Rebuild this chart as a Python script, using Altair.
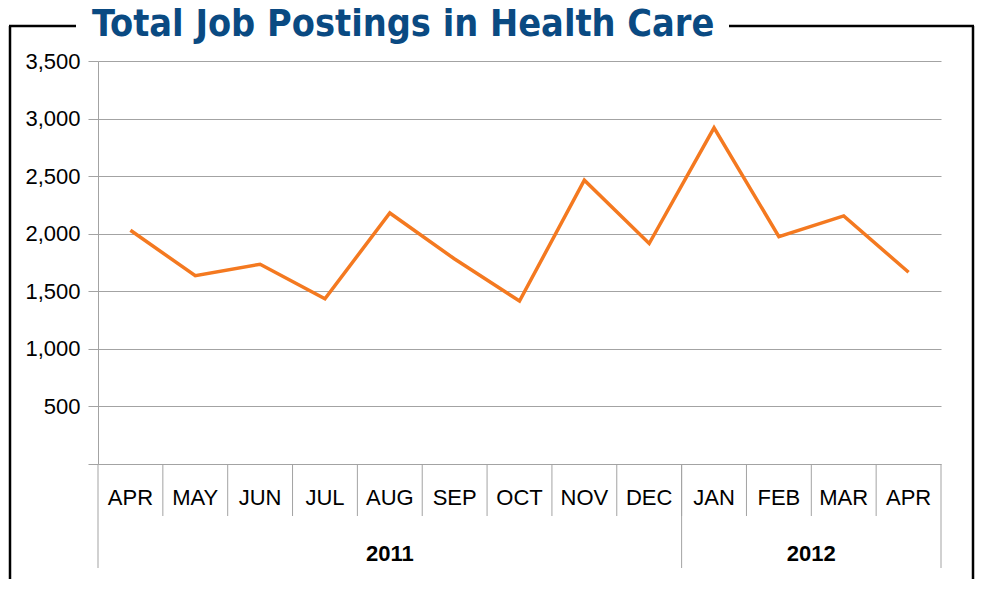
import altair as alt
import pandas as pd

# ---- data ----
months = ["APR", "MAY", "JUN", "JUL", "AUG", "SEP", "OCT", "NOV", "DEC", "JAN", "FEB", "MAR", "APR"]
postings = [2030, 1635, 1735, 1435, 2180, 1780, 1415, 2465, 1915, 2920, 1975, 2155, 1665]
years = ["2011", "2012"]
year_first = [0, 9]
year_last = [8, 12]
y_ticks = [0, 500, 1000, 1500, 2000, 2500, 3000, 3500]
title_text = "Total Job Postings in Health Care"

# ---- style ----
W, H = 843, 403
GRAY = "#a3a3a3"
ORANGE = "#f47920"
NAVY = "#0a4a82"
FONT = "Liberation Sans"

n = len(months)
df = pd.DataFrame({"idx": list(range(n)), "month": months, "postings": postings})
xscale = alt.Scale(domain=[-0.5, n - 0.5], nice=False, zero=False)

month_sep = pd.DataFrame({"pos": [i + 0.5 for i in range(n - 1)]})
year_bounds = pd.DataFrame({"pos": [year_first[0] - 0.5] + [l + 0.5 for l in year_last]})
year_df = pd.DataFrame({"year": years, "mid": [(a + b) / 2 for a, b in zip(year_first, year_last)]})
one = pd.DataFrame({"k": [0]})

line = alt.Chart(df).mark_line(color=ORANGE, strokeWidth=3.5, strokeJoin="miter").encode(
    x=alt.X("idx:Q", scale=xscale, axis=None),
    y=alt.Y(
        "postings:Q",
        scale=alt.Scale(domain=[0, 3500], nice=False),
        axis=alt.Axis(
            values=y_ticks, grid=True, gridColor=GRAY, gridWidth=1,
            domainColor=GRAY, tickColor=GRAY, tickSize=10,
            labelFontSize=22, labelFont=FONT, labelColor="black", labelPadding=8,
            labelExpr="datum.value == 0 ? '' : format(datum.value, ',')",
            title=None,
        ),
    ),
)

month_labels = alt.Chart(df).mark_text(
    fontSize=22, font=FONT, color="black", baseline="alphabetic", align="center"
).encode(x=alt.X("idx:Q", scale=xscale), y=alt.value(444), text="month:N")

sep_rules = alt.Chart(month_sep).mark_rule(color=GRAY, strokeWidth=1).encode(
    x=alt.X("pos:Q", scale=xscale), y=alt.value(H), y2=alt.value(455)
)
year_rules = alt.Chart(year_bounds).mark_rule(color=GRAY, strokeWidth=1).encode(
    x=alt.X("pos:Q", scale=xscale), y=alt.value(H), y2=alt.value(507)
)
year_labels = alt.Chart(year_df).mark_text(
    fontSize=22, font=FONT, fontWeight="bold", color="black", baseline="alphabetic", align="center"
).encode(x=alt.X("mid:Q", scale=xscale), y=alt.value(500), text="year:N")


def seg(x1, x2, y1, y2):
    return alt.Chart(one).mark_rule(color="black", strokeWidth=2.5).encode(
        x=alt.value(x1), x2=alt.value(x2), y=alt.value(y1), y2=alt.value(y2)
    )


border = [
    seg(-88, -88, -35, 600),
    seg(875, 875, -35, 600),
    seg(-89, -22, -35, -35),
    seg(631, 876, -35, -35),
]

title = alt.Chart(one).mark_text(
    text=title_text, font="DejaVu Sans Condensed, Liberation Sans Narrow, sans-serif",
    fontWeight="bold", fontSize=37.5, color=NAVY, align="left", baseline="alphabetic"
).encode(x=alt.value(-6), y=alt.value(-25))

chart = alt.layer(
    line, sep_rules, year_rules, month_labels, year_labels, *border, title
).properties(
    width=W, height=H,
    padding={"left": 90, "top": 53, "right": 34, "bottom": 115},
    autosize=alt.AutoSizeParams(type="none"),
    background="white",
).configure_view(stroke=None)

chart.save("out.html", embed_options={"renderer": "svg", "actions": False})
